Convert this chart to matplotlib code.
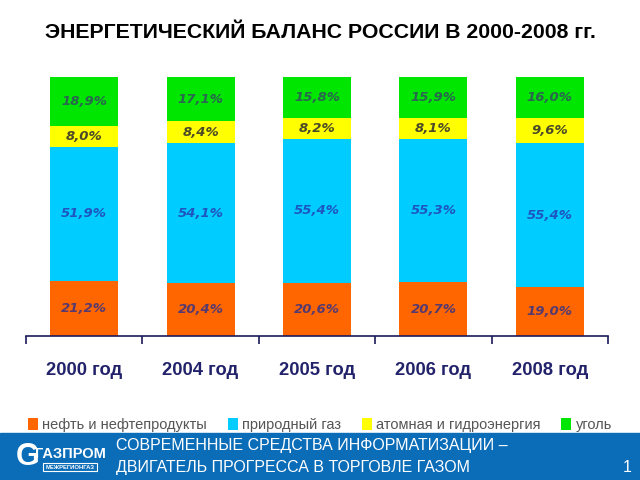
import matplotlib.pyplot as plt
import numpy as np
from matplotlib.patches import Rectangle

plt.rcParams['font.family'] = ['Liberation Sans', 'DejaVu Sans']

years = ['2000 год', '2004 год', '2005 год', '2006 год', '2008 год']
series_names = ['нефть и нефтепродукты', 'природный газ', 'атомная и гидроэнергия', 'уголь']
oil = [21.2, 20.4, 20.6, 20.7, 19.0]
gas = [51.9, 54.1, 55.4, 55.3, 55.4]
nuclear_hydro = [8.0, 8.4, 8.2, 8.1, 9.6]
coal = [18.9, 17.1, 15.8, 15.9, 16.0]

fills = ['#ff6600', '#00ccff', '#ffff00', '#00e600']
label_colors = ['#553a70', '#1f55c0', '#4a4a2a', '#2a6650']

fig = plt.figure(figsize=(6.4, 4.8), dpi=100)
ax = fig.add_axes([0.0406, 0.30, 0.9094, 0.5396])

x = np.arange(len(years))
bottom = np.zeros(len(years))
for vals, name, fc, tc in zip([oil, gas, nuclear_hydro, coal], series_names, fills, label_colors):
    vals = np.array(vals)
    ax.bar(x, vals, width=0.585, bottom=bottom, color=fc, label=name, linewidth=0)
    for xi, b, v in zip(x, bottom, vals):
        ax.text(xi, b + v / 2, f'{v:.1f}%'.replace('.', ','), ha='center', va='center',
                fontsize=9.5, fontweight='bold', fontstyle='italic', color=tc,
                family='DejaVu Sans')
    bottom += vals

ax.set_xlim(-0.5, len(years) - 0.5)
ax.set_ylim(0, 100)
for s in ['top', 'right', 'left']:
    ax.spines[s].set_visible(False)
ax.spines['bottom'].set_color('#1a1a5a')
ax.spines['bottom'].set_linewidth(1.2)
ax.set_yticks([])
ax.set_xticks(np.arange(-0.5, len(years), 1.0))
ax.set_xticklabels([])
ax.tick_params(axis='x', direction='out', length=6, width=1.2, color='#1a1a5a')
for xi, lab in zip(x, years):
    ax.text(xi, -13.5, lab, ha='center', va='center', fontsize=13.2, fontweight='bold',
            color='#22226b')

fig.text(0.5, 0.933, 'ЭНЕРГЕТИЧЕСКИЙ БАЛАНС РОССИИ В 2000-2008 гг.', ha='center', va='center',
         fontsize=15.3, fontweight='bold', color='black')

# легенда
leg = fig.legend(loc='center', bbox_to_anchor=(0.5, 0.114), ncol=4, frameon=False,
                 fontsize=10.5, handlelength=0.7, handleheight=0.9, handletextpad=0.3,
                 columnspacing=1.4)
for t in leg.get_texts():
    t.set_color('#555555')

# нижняя плашка
fig.patches.append(Rectangle((0, 0), 1, 0.098, transform=fig.transFigure, color='#0b6cb8', zorder=0))
fig.text(0.043, 0.048, 'G', ha='center', va='center', fontsize=22, fontweight='bold',
         color='white')
fig.text(0.11, 0.054, 'ГАЗПРОМ', ha='center', va='center', fontsize=10.5, fontweight='bold',
         color='white')
fig.patches.append(Rectangle((0.067, 0.018), 0.085, 0.018, transform=fig.transFigure,
                             facecolor='#0b6cb8', edgecolor='white', linewidth=0.8))
fig.text(0.1095, 0.027, 'МЕЖРЕГИОНГАЗ', ha='center', va='center', fontsize=4.2,
         fontweight='bold', color='white')
fig.text(0.181, 0.072, 'СОВРЕМЕННЫЕ СРЕДСТВА ИНФОРМАТИЗАЦИИ –', ha='left', va='center',
         fontsize=11.5, color='white')
fig.text(0.181, 0.027, 'ДВИГАТЕЛЬ ПРОГРЕССА В ТОРГОВЛЕ ГАЗОМ', ha='left', va='center',
         fontsize=11.5, color='white')
fig.text(0.98, 0.027, '1', ha='center', va='center', fontsize=11.5, color='white')

fig.savefig('out.png', dpi=100)
